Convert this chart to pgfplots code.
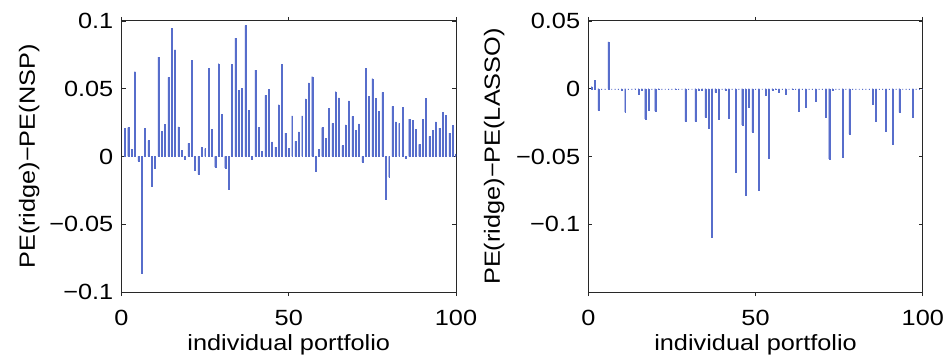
\documentclass[border=0pt]{standalone}
\usepackage{fontspec}
\setmainfont{Liberation Sans}[FakeStretch=1.15]
\usepackage{pgfplots}
\usepackage{pgfplotstable}
\pgfplotsset{compat=1.18}
\definecolor{barblue}{RGB}{45,72,190}
\definecolor{axisgray}{RGB}{40,40,40}

% PE(ridge) - PE(NSP) for each portfolio
\pgfplotstableread{
i d
1 0.0209
2 0.0214
3 0.0052
4 0.0626
5 -0.0034
6 -0.0862
7 0.0207
8 0.0118
9 -0.0219
10 -0.0089
11 0.0734
12 0.0187
13 0.0236
14 0.0584
15 0.0948
16 0.0788
17 0.0219
18 0.0044
19 -0.0022
20 0.0096
21 0.0709
22 -0.0103
23 -0.0131
24 0.0069
25 0.0059
26 0.0653
27 0.0200
28 -0.0079
29 0.0685
30 0.0310
31 -0.0084
32 -0.0239
33 0.0680
34 0.0874
35 0.0488
36 0.0505
37 0.0966
38 0.0340
39 -0.0017
40 0.0638
41 0.0217
42 0.0039
43 0.0451
44 0.0498
45 0.0108
46 0.0069
47 0.0382
48 0.0680
49 0.0172
50 0.0062
51 0.0300
52 0.0111
53 0.0182
54 0.0300
55 0.0426
56 0.0544
57 0.0589
58 -0.0108
59 0.0052
60 0.0214
61 0.0133
62 0.0355
63 0.0244
64 0.0478
65 0.0433
66 0.0081
67 0.0234
68 0.0411
69 0.0296
70 0.0192
71 0.0241
72 -0.0042
73 0.0650
74 0.0443
75 0.0574
76 0.0431
77 0.0335
78 0.0473
79 -0.0315
80 -0.0153
81 0.0369
82 0.0256
83 0.0244
84 0.0362
85 -0.0012
86 0.0276
87 0.0266
88 0.0200
89 0.0089
90 0.0276
91 0.0431
92 0.0148
93 0.0192
94 0.0256
95 0.0209
96 0.0325
97 0.0303
98 0.0172
99 0.0229
100 0.0020
}\ridgensp

% PE(ridge) - PE(LASSO) for each portfolio
\pgfplotstableread{
i d
1 0.0015
2 0.0062
3 -0.0160
4 0
5 0
6 0.0345
7 0
8 0
9 0
10 -0.0008
11 -0.0172
12 0
13 0
14 -0.0005
15 -0.0037
16 -0.0008
17 -0.0222
18 -0.0155
19 0
20 -0.0165
21 -0.0005
22 0
23 0
24 0
25 0
26 -0.0005
27 0
28 0
29 -0.0241
30 0
31 0
32 -0.0241
33 -0.0012
34 -0.0010
35 -0.0212
36 -0.0288
37 -0.1096
38 -0.0027
39 -0.0222
40 0
41 -0.0008
42 -0.0217
43 0
44 -0.0618
45 0
46 -0.0266
47 -0.0783
48 -0.0138
49 -0.0320
50 0
51 -0.0746
52 0
53 -0.0049
54 -0.0510
55 -0.0008
56 -0.0005
57 -0.0025
58 0
59 -0.0037
60 0
61 -0.0005
62 0
63 -0.0163
64 0
65 -0.0135
66 0
67 0
68 -0.0094
69 0
70 0
71 -0.0212
72 -0.0517
73 -0.0012
74 0
75 0
76 -0.0505
77 0
78 -0.0333
79 0
80 0
81 0
82 0
83 0
84 0
85 -0.0113
86 -0.0241
87 0
88 0
89 -0.0310
90 0
91 -0.0409
92 0
93 -0.0175
94 0
95 0
96 0
97 -0.0212
98 0
99 0
100 0
}\ridgelasso

\newcommand{\labfont}{\fontsize{22bp}{26bp}\selectfont}

\pgfplotsset{
  panel/.style={
    scale only axis, width=334.5bp, height=271bp,
    xmin=0, xmax=100,
    xtick={0,50,100}, xticklabels={0,50,100},
    scaled y ticks=false,
    tick align=inside, major tick length=4bp,
    axis line style={line width=1bp, axisgray},
    every tick/.style={axisgray, line width=0.7bp},
    tick label style={font=\labfont, inner sep=0pt},
    xticklabel style={anchor=base, yshift=-29bp},
    yticklabel style={anchor=east, xshift=-8bp},
    label style={font=\labfont, inner sep=0pt},
    xlabel={individual portfolio},
    xlabel style={at={(axis description cs:0.5,0)}, anchor=base, yshift=-58bp},
    ybar, bar width=0.28, bar shift=0pt,
  },
  stems/.style={fill=barblue, draw=barblue!80, line width=0.25bp},
}

\begin{document}
\begin{tikzpicture}[x=1bp,y=1bp]
\useasboundingbox (0,0) rectangle (944,358);

\begin{axis}[panel,
  at={(121.5bp,66bp)}, anchor=south west,
  ymin=-0.1, ymax=0.1,
  ytick={-0.1,-0.05,0,0.05,0.1},
  yticklabels={−0.1,−0.05,0,0.05,0.1},
  ylabel={PE(ridge)−PE(NSP)},
  ylabel style={at={(axis description cs:-0.2586,0.5)}, anchor=base},
]
\addplot[stems] table[x=i, y=d] {\ridgensp};
\end{axis}

\begin{axis}[panel,
  at={(588.3bp,66bp)}, anchor=south west,
  ymin=-0.15, ymax=0.05,
  ytick={-0.1,-0.05,0,0.05},
  yticklabels={−0.1,−0.05,0,0.05},
  ylabel={PE(ridge)−PE(LASSO)},
  ylabel style={at={(axis description cs:-0.264,0.5)}, anchor=base},
]
\addplot[stems] table[x=i, y=d] {\ridgelasso};
\end{axis}
\end{tikzpicture}
\end{document}
